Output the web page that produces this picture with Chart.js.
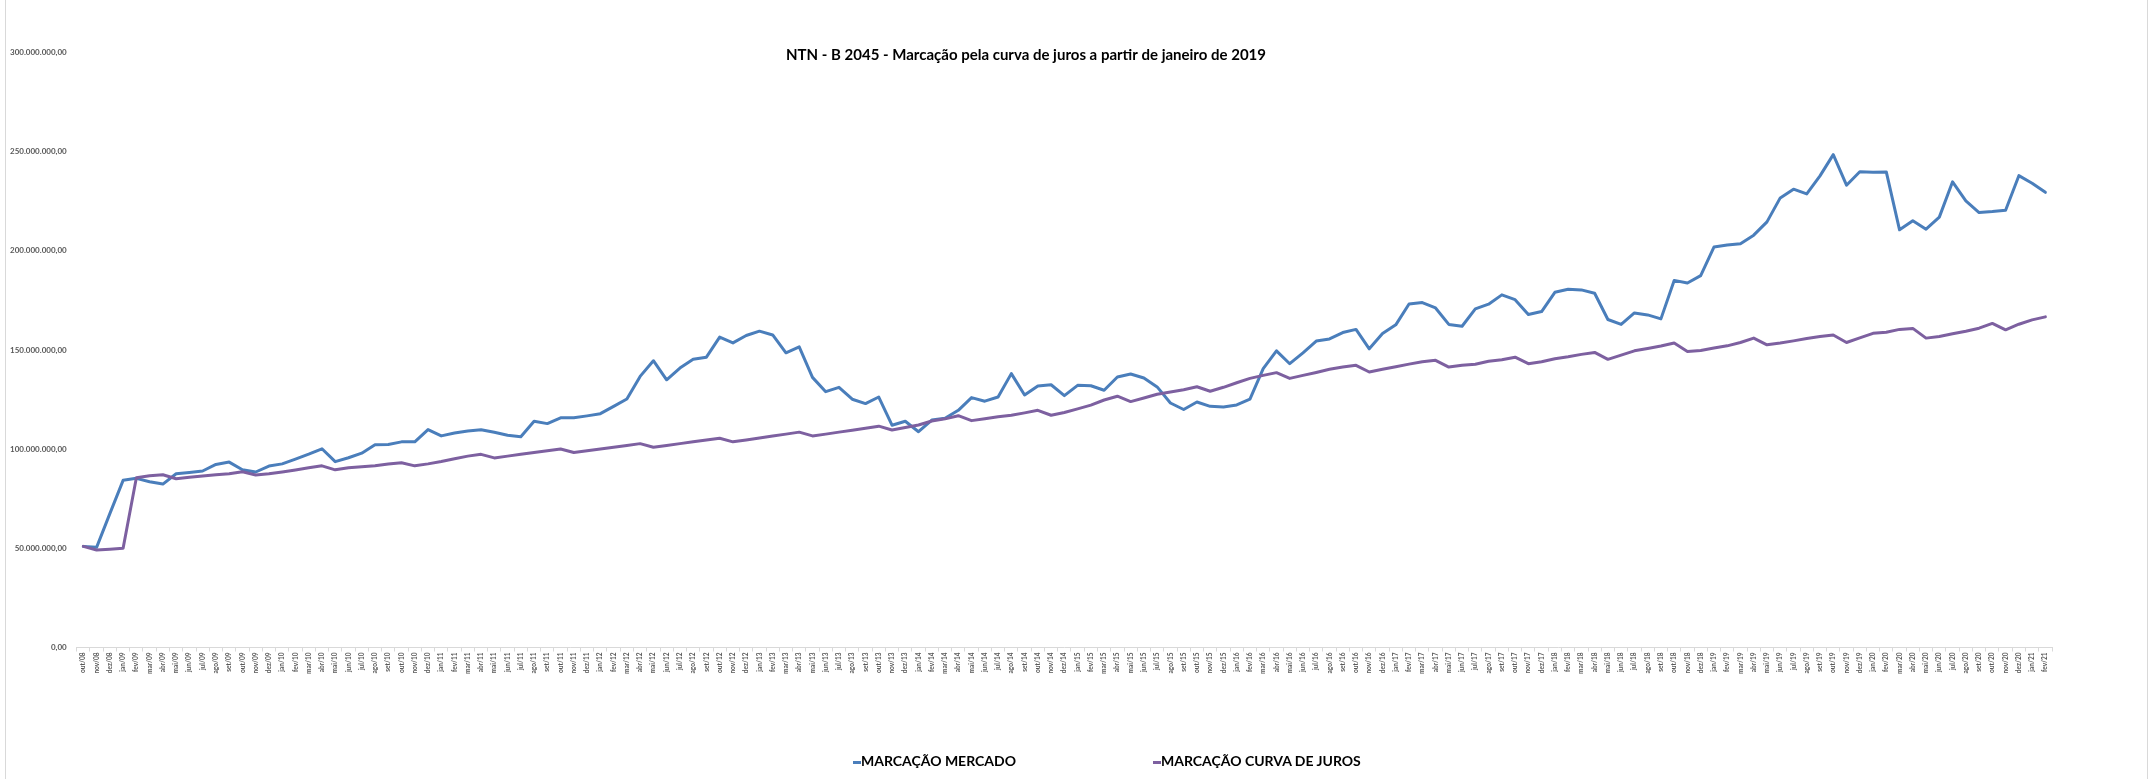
<!DOCTYPE html>
<html>
<head>
<meta charset="utf-8">
<script src="https://cdn.jsdelivr.net/npm/chart.js@4.4.1/dist/chart.umd.min.js"></script>
<style>
  body { margin: 0; background: #fff; }
  #wrap { position: relative; width: 2150px; height: 779px; overflow: hidden; }
  .edge { position: absolute; top: 0; width: 1px; height: 779px; background: #d9d9d9; }
  .item { position: absolute; top: 752px; white-space: nowrap; line-height: 18px;
          font: bold 14px Lato, sans-serif; color: #000; }
  .mark { display: inline-block; width: 8px; height: 3px; vertical-align: middle; }
</style>
</head>
<body>
<div id="wrap">
  <canvas id="ntnChart" width="2150" height="779"></canvas>
  <div class="edge" style="left:5px"></div>
  <div class="edge" style="left:2147px"></div>
  <div id="legend"></div>
</div>
<script>
// title and series names
const chartTitle = 'NTN - B 2045 - Marcação pela curva de juros a partir de janeiro de 2019';
const seriesNames = ['MARCAÇÃO MERCADO', 'MARCAÇÃO CURVA DE JUROS'];

// months, out/08 .. fev/21
const months = [
  'out/08', 'nov/08', 'dez/08',
  'jan/09', 'fev/09', 'mar/09', 'abr/09', 'mai/09', 'jun/09', 'jul/09', 'ago/09', 'set/09', 'out/09', 'nov/09', 'dez/09',
  'jan/10', 'fev/10', 'mar/10', 'abr/10', 'mai/10', 'jun/10', 'jul/10', 'ago/10', 'set/10', 'out/10', 'nov/10', 'dez/10',
  'jan/11', 'fev/11', 'mar/11', 'abr/11', 'mai/11', 'jun/11', 'jul/11', 'ago/11', 'set/11', 'out/11', 'nov/11', 'dez/11',
  'jan/12', 'fev/12', 'mar/12', 'abr/12', 'mai/12', 'jun/12', 'jul/12', 'ago/12', 'set/12', 'out/12', 'nov/12', 'dez/12',
  'jan/13', 'fev/13', 'mar/13', 'abr/13', 'mai/13', 'jun/13', 'jul/13', 'ago/13', 'set/13', 'out/13', 'nov/13', 'dez/13',
  'jan/14', 'fev/14', 'mar/14', 'abr/14', 'mai/14', 'jun/14', 'jul/14', 'ago/14', 'set/14', 'out/14', 'nov/14', 'dez/14',
  'jan/15', 'fev/15', 'mar/15', 'abr/15', 'mai/15', 'jun/15', 'jul/15', 'ago/15', 'set/15', 'out/15', 'nov/15', 'dez/15',
  'jan/16', 'fev/16', 'mar/16', 'abr/16', 'mai/16', 'jun/16', 'jul/16', 'ago/16', 'set/16', 'out/16', 'nov/16', 'dez/16',
  'jan/17', 'fev/17', 'mar/17', 'abr/17', 'mai/17', 'jun/17', 'jul/17', 'ago/17', 'set/17', 'out/17', 'nov/17', 'dez/17',
  'jan/18', 'fev/18', 'mar/18', 'abr/18', 'mai/18', 'jun/18', 'jul/18', 'ago/18', 'set/18', 'out/18', 'nov/18', 'dez/18',
  'jan/19', 'fev/19', 'mar/19', 'abr/19', 'mai/19', 'jun/19', 'jul/19', 'ago/19', 'set/19', 'out/19', 'nov/19', 'dez/19',
  'jan/20', 'fev/20', 'mar/20', 'abr/20', 'mai/20', 'jun/20', 'jul/20', 'ago/20', 'set/20', 'out/20', 'nov/20', 'dez/20',
  'jan/21', 'fev/21'
];

// values in millions of R$
const mercado = [
  51.0, 50.5, 67.5,
  84.3, 85.3, 83.6, 82.4, 87.6, 88.3, 89.0, 92.3, 93.5, 89.6, 88.5, 91.5,
  92.6, 95.0, 97.5, 100.2, 93.7, 95.7, 98.0, 102.2, 102.4, 103.7, 103.7, 109.9,
  106.7, 108.2, 109.2, 109.8, 108.5, 107.0, 106.3, 114.1, 112.9, 115.8, 115.8, 116.8,
  117.9, 121.6, 125.3, 136.7, 144.6, 135.0, 140.9, 145.3, 146.4, 156.5, 153.6, 157.3,
  159.5, 157.6, 148.6, 151.6, 136.2, 129.0, 131.2, 125.2, 123.0, 126.3, 112.1, 114.1,
  108.8, 114.7, 115.6, 119.6, 126.0, 124.2, 126.3, 138.1, 127.3, 131.9, 132.5, 127.0,
  132.2, 132.0, 129.7, 136.4, 137.9, 135.9, 131.4, 123.3, 120.0, 123.8, 121.6, 121.3,
  122.3, 125.2, 140.6, 149.6, 143.1, 148.6, 154.5, 155.6, 158.8, 160.4, 150.6, 158.3,
  162.7, 173.2, 173.9, 171.2, 162.9, 162.0, 170.7, 173.1, 177.8, 175.4, 167.9, 169.4,
  179.1, 180.6, 180.3, 178.6, 165.4, 162.9, 168.7, 167.7, 165.7, 185.1, 183.8, 187.5,
  201.9, 202.9, 203.6, 207.9, 214.6, 226.7, 231.1, 228.7, 237.8, 248.5, 233.1, 239.9,
  239.6, 239.8, 210.6, 215.2, 210.9, 217.0, 234.8, 225.2, 219.3, 219.8, 220.5, 237.9,
  234.1, 229.5
];

const curvaJuros = [
  51.0, 49.2, 49.6,
  50.1, 85.6, 86.6, 87.1, 85.1, 85.8, 86.5, 87.1, 87.6, 88.6, 87.0, 87.6,
  88.5, 89.5, 90.6, 91.6, 89.6, 90.6, 91.1, 91.6, 92.5, 93.2, 91.6, 92.6,
  93.8, 95.2, 96.5, 97.4, 95.6, 96.5, 97.4, 98.3, 99.2, 100.1, 98.3, 99.2,
  100.1, 101.0, 101.9, 102.8, 101.0, 101.9, 102.8, 103.7, 104.6, 105.5, 103.7, 104.6,
  105.6, 106.6, 107.6, 108.6, 106.7, 107.6, 108.6, 109.6, 110.6, 111.6, 109.7, 110.9,
  112.2, 114.2, 115.3, 116.9, 114.4, 115.4, 116.4, 117.1, 118.3, 119.6, 117.1, 118.5,
  120.3, 122.2, 124.8, 126.7, 124.0, 125.8, 127.7, 128.8, 130.0, 131.5, 129.2, 131.2,
  133.5, 135.7, 137.2, 138.6, 135.7, 137.2, 138.7, 140.3, 141.4, 142.3, 138.9, 140.3,
  141.6, 142.9, 144.1, 144.8, 141.4, 142.3, 142.8, 144.3, 145.1, 146.4, 143.1, 144.1,
  145.6, 146.6, 147.8, 148.8, 145.3, 147.4, 149.6, 150.8, 152.0, 153.5, 149.3, 149.8,
  151.0, 152.1, 153.8, 156.0, 152.6, 153.5, 154.6, 155.8, 156.8, 157.6, 153.8, 156.1,
  158.4, 159.0, 160.4, 160.9, 156.0, 156.8, 158.2, 159.5, 161.0, 163.4, 160.2, 163.0,
  165.2, 166.7
];

const seriesColors = ['#4a7ebb', '#7d60a0'];

// 300000000 -> 300.000.000,00
function formatBRL(v) {
  const s = Math.round(v).toString().replace(/\B(?=(\d{3})+(?!\d))/g, '.');
  return s + ',00';
}

const ctx = document.getElementById('ntnChart').getContext('2d');
const chart = new Chart(ctx, {
  type: 'line',
  data: {
    labels: months,
    datasets: [
      { label: seriesNames[0], data: mercado, borderColor: seriesColors[0], order: 1 },
      { label: seriesNames[1], data: curvaJuros, borderColor: seriesColors[1], order: 0 }
    ]
  },
  options: {
    responsive: false,
    animation: false,
    devicePixelRatio: 1,
    elements: {
      line: { borderWidth: 3, tension: 0, borderJoinStyle: 'round', borderCapStyle: 'round' },
      point: { radius: 0 }
    },
    layout: { padding: { left: 0, right: 98, top: 0, bottom: 104 } },
    plugins: {
      legend: { display: false },
      tooltip: { enabled: false },
      title: {
        display: true,
        text: chartTitle,
        color: '#000',
        font: { family: 'Lato', size: 15, weight: 'bold' },
        padding: { top: 46, bottom: -11.5 }
      }
    },
    scales: {
      x: {
        offset: true,
        grid: { offset: true, drawOnChartArea: false, color: '#d9d9d9', tickLength: 4 },
        border: { color: '#d9d9d9' },
        ticks: {
          autoSkip: false,
          maxRotation: 90,
          minRotation: 90,
          padding: 1,
          color: '#595959',
          font: { family: 'Lato', size: 6.5, weight: 'bold' }
        }
      },
      y: {
        min: 0,
        max: 300,
        grid: { display: false, drawTicks: false },
        border: { display: false },
        ticks: {
          stepSize: 50,
          padding: 10,
          color: '#595959',
          font: { family: 'Lato', size: 8, weight: 'bold' },
          callback: v => formatBRL(v * 1e6)
        }
      }
    }
  }
});

// legend below the chart, as in the spreadsheet
const legendX = [853, 1153];
const legend = document.getElementById('legend');
chart.data.datasets.forEach((ds, i) => {
  const item = document.createElement('div');
  item.className = 'item';
  item.style.left = legendX[i] + 'px';
  item.innerHTML = '<span class="mark" style="background:' + ds.borderColor + '"></span>' + ds.label;
  legend.appendChild(item);
});
</script>
</body>
</html>
